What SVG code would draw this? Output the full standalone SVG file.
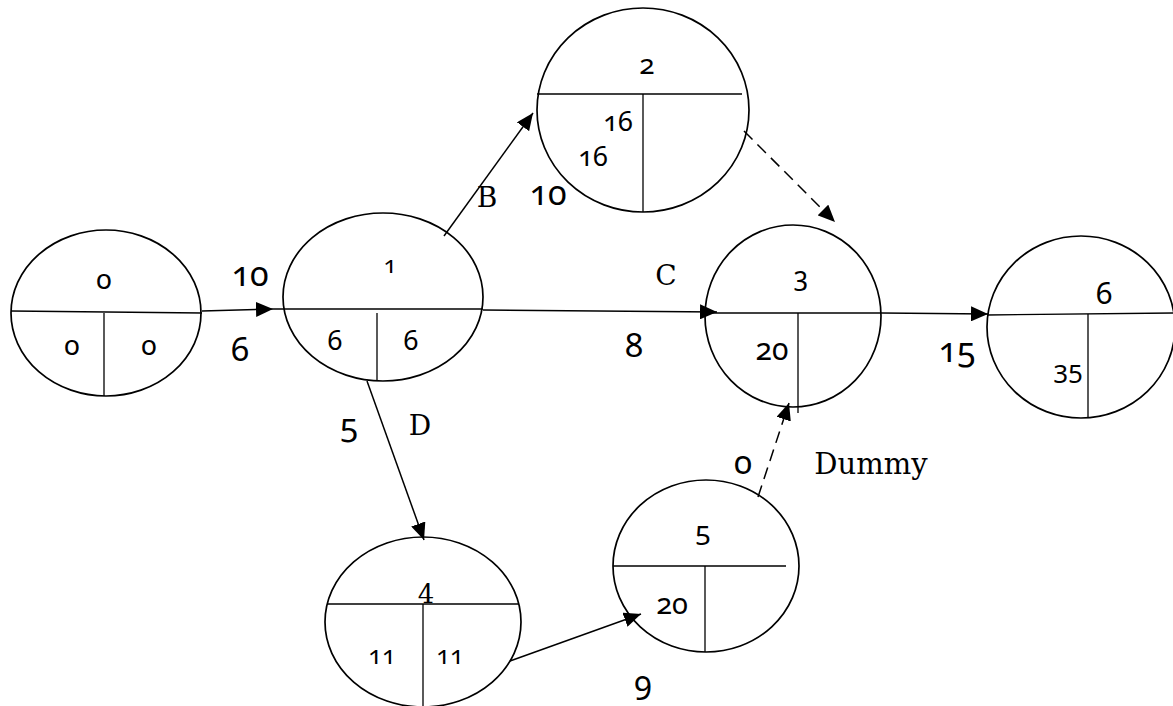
<svg xmlns="http://www.w3.org/2000/svg" width="1173" height="706" viewBox="0 0 1173 706">
<style>
.n ellipse{fill:none;stroke:#000;stroke-width:1.7}
.n line{stroke:#000;stroke-width:1.3}
.num{font-family:"Noto Sans","DejaVu Sans",sans-serif;font-variant-numeric:oldstyle-nums;font-feature-settings:"onum" 1;text-anchor:middle;fill:#000}
.lin{font-family:"Noto Sans","DejaVu Sans",sans-serif;text-anchor:middle;fill:#000}
.let{font-family:"DejaVu Serif","Liberation Serif",serif;text-anchor:middle;fill:#000}
.e line{stroke:#000;stroke-width:1.5;fill:none}
.e .d{stroke-dasharray:12 7}
</style>
<defs>
<marker id="ah" markerUnits="userSpaceOnUse" markerWidth="17" markerHeight="15" viewBox="0 0 17 15" refX="17" refY="7.5" orient="auto">
<path d="M0,0 L17,7.5 L0,15 Z" fill="#000"/>
</marker>
</defs>
<g id="node0" class="n">
<ellipse cx="106" cy="313" rx="95" ry="83"/>
<line x1="11" y1="311" x2="202" y2="313"/>
<line x1="104" y1="313" x2="104" y2="396"/>
<text class="num" x="104" y="289" font-size="28">0</text>
<text class="num" x="72" y="355" font-size="28">0</text>
<text class="num" x="149" y="355" font-size="28">0</text>
</g>
<g id="node1" class="n">
<ellipse cx="383" cy="297" rx="100" ry="84"/>
<line x1="273" y1="309" x2="483" y2="309"/>
<line x1="377" y1="313" x2="377" y2="381"/>
<text class="num" x="390" y="273" font-size="24">1</text>
<text class="num" x="335" y="350" font-size="27">6</text>
<text class="num" x="411" y="350" font-size="27">6</text>
</g>
<g id="node2" class="n">
<ellipse cx="643" cy="110" rx="106" ry="102"/>
<line x1="537" y1="94" x2="742" y2="94"/>
<line x1="643" y1="94" x2="643" y2="212"/>
<text class="num" x="647" y="74" font-size="28">2</text>
<text class="num" x="618" y="131" font-size="27">16</text>
<text class="num" x="593" y="166" font-size="27">16</text>
</g>
<g id="node3" class="n">
<ellipse cx="793" cy="316" rx="88" ry="91"/>
<line x1="705" y1="313" x2="882" y2="313"/>
<line x1="798" y1="313" x2="798" y2="413"/>
<text class="num" x="801" y="286" font-size="27">3</text>
<text class="num" x="772" y="360" font-size="30">20</text>
</g>
<g id="node4" class="n">
<ellipse cx="423" cy="622" rx="98" ry="85"/>
<line x1="327" y1="604" x2="519" y2="604"/>
<line x1="423" y1="604" x2="423" y2="706"/>
<text class="let" x="426" y="603" font-size="26">4</text>
<text class="num" x="382" y="664" font-size="25">11</text>
<text class="num" x="450" y="664" font-size="25">11</text>
</g>
<g id="node5" class="n">
<ellipse cx="706" cy="566" rx="93" ry="86"/>
<line x1="613" y1="566" x2="786" y2="566"/>
<line x1="705" y1="566" x2="705" y2="652"/>
<text class="num" x="703" y="541" font-size="28">5</text>
<text class="num" x="672" y="614" font-size="29">20</text>
</g>
<g id="node6" class="n">
<ellipse cx="1081" cy="327" rx="94" ry="91"/>
<line x1="987" y1="315" x2="1173" y2="313"/>
<line x1="1088" y1="314" x2="1088" y2="418"/>
<text class="lin" x="1104" y="304" font-size="30">6</text>
<text class="lin" x="1068" y="383" font-size="26">35</text>
</g>
<g id="connectors" class="e">
<line x1="202" y1="311" x2="273" y2="309" marker-end="url(#ah)"/>
<line x1="483" y1="310" x2="717" y2="312" marker-end="url(#ah)"/>
<line x1="444" y1="236" x2="533" y2="113" marker-end="url(#ah)"/>
<line class="d" x1="744" y1="131" x2="835" y2="222" marker-end="url(#ah)"/>
<line x1="367" y1="381" x2="424" y2="540" marker-end="url(#ah)"/>
<line x1="510" y1="661" x2="641" y2="614" marker-end="url(#ah)"/>
<line class="d" x1="758" y1="497" x2="789" y2="403" marker-end="url(#ah)"/>
<line x1="882" y1="313" x2="988" y2="314" marker-end="url(#ah)"/>
</g>
<g id="labels">
<text class="num" x="250" y="286" font-size="34">10</text>
<text class="num" x="240" y="361" font-size="33">6</text>
<text class="let" x="487" y="207" font-size="28">B</text>
<text class="num" x="548" y="205" font-size="34">10</text>
<text class="let" x="666" y="285" font-size="28">C</text>
<text class="num" x="634" y="357" font-size="33">8</text>
<text class="num" x="957" y="362" font-size="34">15</text>
<text class="num" x="349" y="437" font-size="33">5</text>
<text class="let" x="420" y="435" font-size="28">D</text>
<text class="num" x="643" y="694" font-size="32">9</text>
<text class="num" x="743" y="474" font-size="33">0</text>
<text class="let" x="871" y="474" font-size="29">Dummy</text>
</g>
</svg>
